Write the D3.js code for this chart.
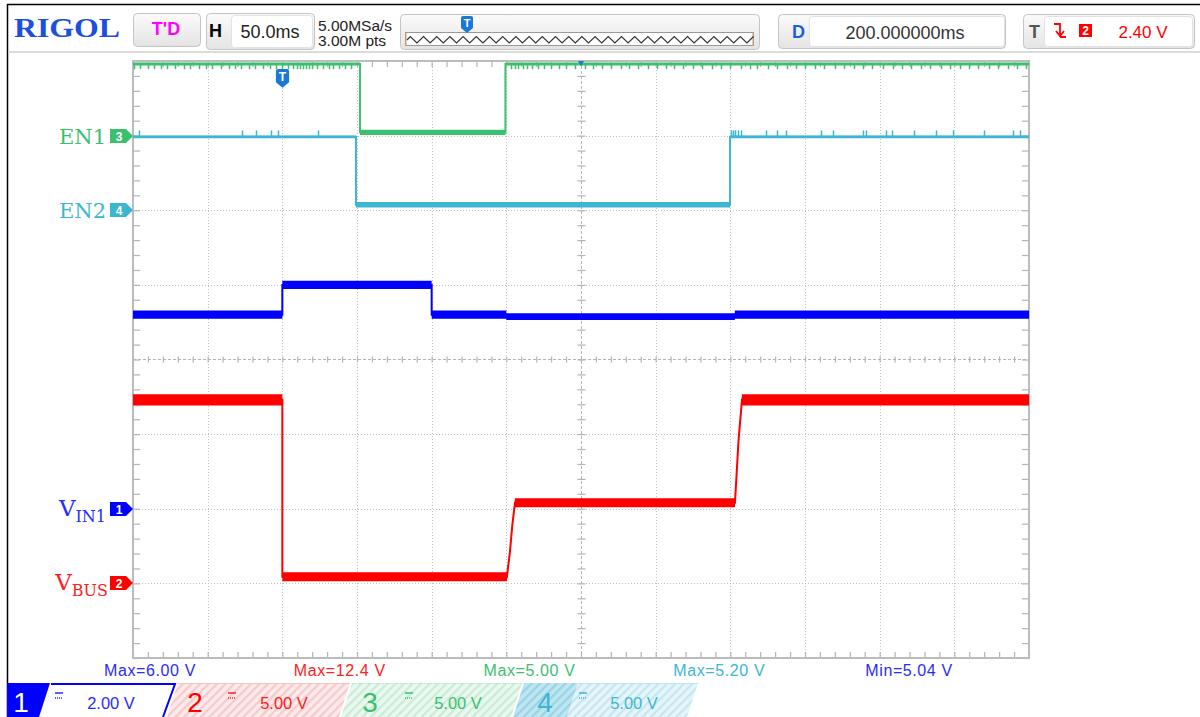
<!DOCTYPE html>
<html>
<head>
<meta charset="utf-8">
<script src="https://cdn.jsdelivr.net/npm/d3@7"></script>
<style>
  body { margin: 0; background: #fff; }
  svg { display: block; }
</style>
</head>
<body>
<script>
// ---- data ----
// time axis in ms relative to the trigger, 50 ms/div, 12 div
const timeDomain = [-100, 500];
const vDivs = [-4, -3, -2, -1, 0, 1, 2, 3, 4];

// channels: 1 = VIN1, 2 = VBUS, 3 = EN1, 4 = EN2
const chNumbers = ["1", "2", "3", "4"];
const chVoltsPerDiv = [2, 5, 5, 5];
const chOffsetDiv = [-2, -3, 3, 2];
const chScaleLabels = ["2.00 V", "5.00 V", "5.00 V", "5.00 V"];

// trace vertices (time ms, level V, half noise band V)
const ch1Time = [-100, 0, 0, 100, 100, 150, 150, 303, 303, 500];
const ch1Volt = [5.2, 5.2, 6.0, 6.0, 5.2, 5.2, 5.15, 5.15, 5.2, 5.2];
const ch1Noise = [0.11, 0.11, 0.11, 0.11, 0.11, 0.11, 0.09, 0.09, 0.11, 0.11];

const ch2Time = [-100, 0, 0, 150.4, 152.5, 154, 155.8, 303.1, 305.5, 307.8, 500];
const ch2Volt = [12.3, 12.3, 0.44, 0.44, 2.2, 3.9, 5.4, 5.4, 9.6, 12.3, 12.3];
const ch2Noise = [0.38, 0.38, 0.3, 0.3, 0.1, 0.1, 0.3, 0.3, 0.1, 0.38, 0.38];

const ch3Time = [-100, 52, 52, 149.4, 149.4, 500];
const ch3Volt = [4.8, 4.8, 0.22, 0.22, 4.8, 4.8];
const ch3Noise = [0.1, 0.1, 0.18, 0.18, 0.1, 0.1];

const ch4Time = [-100, 49.3, 49.3, 299.8, 299.8, 500];
const ch4Volt = [4.92, 4.92, 0.37, 0.37, 4.92, 4.92];
const ch4Noise = [0.09, 0.09, 0.19, 0.19, 0.09, 0.09];

// glitch spikes on the logic lines
const ch3SpikeTime = [-99, -95, -90, -86, -81, -77, -72, -66, -62, -56, -51, -47, -41, -36, -32, -28,
  -22, -18, -13, -8, -4, 0, 4, 7, 10, 12, 14, 16, 18, 20, 23, 27, 31, 34, 38, 42, 46,
  153, 156, 158, 161, 164, 167, 171, 175, 180, 185, 190, 196, 203, 208, 214, 220, 227, 232, 238,
  245, 251, 257, 262, 268, 275, 281, 288, 294, 300, 307, 313, 318, 325, 331, 338, 344, 350, 357,
  363, 370, 376, 383, 389, 395, 402, 409, 415, 421, 428, 434, 441, 447, 454, 460, 466, 473, 479,
  486, 492, 498];
const ch3SpikeLow = 4.45;
const ch4SpikeTime = [-96, -27, -17.6, -7.6, -2.9, 23.9, 300.5, 302, 303, 305, 307, 324, 331, 337,
  361, 369, 389, 391, 404, 408, 423, 438, 449, 470, 489, 494];
const ch4SpikeHigh = 5.35;

// measurements
const measureText = ["Max=6.00 V", "Max=12.4 V", "Max=5.00 V", "Max=5.20 V", "Min=5.04 V"];
const measureChannel = [0, 1, 2, 3, 0];

// ---- styles ----
const colors = ["#0000ff", "#ff0000", "#3dbf70", "#3db6d2"];
const textColors = ["#2a2aff", "#ff2020", "#3dbf70", "#3db6d2"];

const W = 1200, H = 717;
const plot = { left: 133, right: 1029, top: 61, bottom: 658 };

const svg = d3.select("body").append("svg")
  .attr("width", W).attr("height", H)
  .attr("font-family", "'Liberation Sans', Arial, sans-serif");

const defs = svg.append("defs");
const grad = defs.append("linearGradient").attr("id", "btn").attr("x1", 0).attr("x2", 0).attr("y1", 0).attr("y2", 1);
grad.append("stop").attr("offset", "0%").attr("stop-color", "#fbfbfb");
grad.append("stop").attr("offset", "100%").attr("stop-color", "#e4e4e4");

function hatch(id, bg, fg) {
  const p = defs.append("pattern").attr("id", id).attr("patternUnits", "userSpaceOnUse")
    .attr("width", 6).attr("height", 6).attr("patternTransform", "rotate(45)");
  p.append("rect").attr("width", 6).attr("height", 6).attr("fill", bg);
  p.append("rect").attr("width", 2.2).attr("height", 6).attr("fill", fg);
}
hatch("h2", "#fdeaea", "#f7c9c9");
hatch("h3", "#eaf8ef", "#c9ecd6");
hatch("h4", "#e6f5fa", "#c4e6f1");
hatch("h4d", "#bfe5f1", "#98d3e6");

defs.append("clipPath").attr("id", "clip").append("rect")
  .attr("x", plot.left).attr("y", plot.top)
  .attr("width", plot.right - plot.left).attr("height", plot.bottom - plot.top);

// ---- scales ----
const x = d3.scaleLinear().domain(timeDomain).range([plot.left, plot.right]);
const yDiv = d3.scaleLinear().domain([-4, 4]).range([plot.bottom, plot.top]);
const yCh = chVoltsPerDiv.map((s, i) =>
  d3.scaleLinear().domain([(-4 - chOffsetDiv[i]) * s, (4 - chOffsetDiv[i]) * s]).range([plot.bottom, plot.top]));

// ---- frame ----
svg.append("line").attr("x1", 7).attr("x2", W).attr("y1", 4.5).attr("y2", 4.5).attr("stroke", "#000").attr("stroke-width", 1.5);
svg.append("line").attr("x1", 7.5).attr("x2", 7.5).attr("y1", 4).attr("y2", H).attr("stroke", "#000").attr("stroke-width", 1.5);
svg.append("line").attr("x1", 8).attr("x2", W).attr("y1", 52).attr("y2", 52).attr("stroke", "#cfcfcf").attr("stroke-width", 1.5);

// ---- header ----
const hdr = svg.append("g");
hdr.append("text").attr("x", 14).attr("y", 37).attr("font-family", "'Liberation Serif', 'Times New Roman', serif")
  .attr("font-weight", "bold").attr("font-size", 27).attr("fill", "#1c4fde")
  .attr("textLength", 106).attr("lengthAdjust", "spacingAndGlyphs").text("RIGOL");

function box(x0, y0, w, h) {
  hdr.append("rect").attr("x", x0 + 0.5).attr("y", y0 + 0.5).attr("width", w).attr("height", h)
    .attr("rx", 4).attr("fill", "url(#btn)").attr("stroke", "#c4c4c4");
}
function inner(x0, y0, w, h) {
  hdr.append("rect").attr("x", x0 + 0.5).attr("y", y0 + 0.5).attr("width", w).attr("height", h)
    .attr("rx", 3).attr("fill", "#fff").attr("stroke", "#e2e2e2");
}
box(133, 13, 67, 33);
hdr.append("text").attr("x", 166).attr("y", 35).attr("text-anchor", "middle").attr("font-weight", "bold")
  .attr("font-size", 18).attr("fill", "#ff00ff").text("T'D");

box(206, 13, 108, 36);
inner(231, 15, 81, 32);
hdr.append("text").attr("x", 209).attr("y", 37).attr("font-weight", "bold").attr("font-size", 18).attr("fill", "#000").text("H");
hdr.append("text").attr("x", 270).attr("y", 38).attr("text-anchor", "middle").attr("font-size", 18).attr("fill", "#222").text("50.0ms");

hdr.append("text").attr("x", 318).attr("y", 31).attr("font-size", 15.5).attr("fill", "#222").text("5.00MSa/s");
hdr.append("text").attr("x", 318).attr("y", 46).attr("font-size", 15.5).attr("fill", "#222").text("3.00M pts");

box(400, 14, 359, 35);
hdr.append("rect").attr("x", 405.5).attr("y", 32.5).attr("width", 348).attr("height", 13).attr("fill", "#fff").attr("stroke", "#9a9a9a");
hdr.append("line").attr("x1", 406).attr("x2", 406).attr("y1", 33).attr("y2", 46).attr("stroke", "#d59a6a");
hdr.append("line").attr("x1", 753).attr("x2", 753).attr("y1", 33).attr("y2", 46).attr("stroke", "#d59a6a");
{
  // decorative overview waveform icon
  let d = "M407,40";
  for (let px = 407; px < 752; px += 6.6) d += `L${(px + 3.3).toFixed(1)},${(Math.floor((px - 407) / 6.6) % 2 ? 43 : 36.5)}`;
  hdr.append("path").attr("d", d).attr("fill", "none").attr("stroke", "#333").attr("stroke-width", 1.2);
}
function tMarker(g, cx, top, s) {
  const w = 6 * s, h = 12 * s;
  g.append("path").attr("d", `M${cx - w},${top + 2} Q${cx - w},${top} ${cx - w + 2},${top} H${cx + w - 2} Q${cx + w},${top} ${cx + w},${top + 2} V${top + h} L${cx},${top + h + 5 * s} L${cx - w},${top + h} Z`)
    .attr("fill", "#1a78d6");
  g.append("text").attr("x", cx).attr("y", top + 11 * s).attr("text-anchor", "middle").attr("font-weight", "bold")
    .attr("font-size", 11 * s).attr("fill", "#fff").text("T");
}
tMarker(hdr, 467, 16, 1);

box(778, 14, 227, 34);
inner(809, 16, 195, 30);
hdr.append("text").attr("x", 792).attr("y", 38).attr("font-weight", "bold").attr("font-size", 18).attr("fill", "#1a5ee0").text("D");
hdr.append("text").attr("x", 905).attr("y", 39).attr("text-anchor", "middle").attr("font-size", 18).attr("fill", "#333").text("200.000000ms");

box(1023, 14, 171, 34);
inner(1044, 16, 148, 30);
hdr.append("text").attr("x", 1029).attr("y", 38).attr("font-weight", "bold").attr("font-size", 18).attr("fill", "#555").text("T");
hdr.append("path").attr("d", "M1054,24 H1060 V37 M1056,31 L1060,36 L1064,31 M1060,37 H1066")
  .attr("fill", "none").attr("stroke", "#ff0000").attr("stroke-width", 1.8);
hdr.append("rect").attr("x", 1079).attr("y", 24).attr("width", 13).attr("height", 13).attr("fill", "#ff0000");
hdr.append("text").attr("x", 1085.5).attr("y", 35).attr("text-anchor", "middle").attr("font-weight", "bold")
  .attr("font-size", 12).attr("fill", "#fff").text("2");
hdr.append("text").attr("x", 1143).attr("y", 38).attr("text-anchor", "middle").attr("font-size", 17).attr("fill", "#ff0000").text("2.40 V");

// ---- grid ----
const grid = svg.append("g");
const majorT = d3.range(timeDomain[0] + 50, timeDomain[1], 50).filter(t => t !== 200);
grid.selectAll(".gv").data(majorT).join("line")
  .attr("x1", d => Math.round(x(d)) + 0.5).attr("x2", d => Math.round(x(d)) + 0.5)
  .attr("y1", plot.top).attr("y2", plot.bottom)
  .attr("stroke", "#c2c2c2").attr("stroke-dasharray", "1,2");
grid.selectAll(".gh").data(vDivs.filter(d => Math.abs(d) < 4 && d !== 0)).join("line")
  .attr("y1", d => Math.round(yDiv(d)) + 0.5).attr("y2", d => Math.round(yDiv(d)) + 0.5)
  .attr("x1", plot.left).attr("x2", plot.right)
  .attr("stroke", "#c2c2c2").attr("stroke-dasharray", "1,2");

// center cross lines
grid.append("line").attr("x1", plot.left).attr("x2", plot.right).attr("y1", 359.5).attr("y2", 359.5)
  .attr("stroke", "#b4b4b4").attr("stroke-dasharray", "3,2");
grid.append("line").attr("y1", plot.top).attr("y2", plot.bottom).attr("x1", 581.5).attr("x2", 581.5)
  .attr("stroke", "#b4b4b4").attr("stroke-dasharray", "3,2");

const minorT = d3.range(timeDomain[0], timeDomain[1] + 0.1, 10);
const minorV = d3.range(-4, 4.01, 0.2);
function tickAxis(axis, tx, ty) {
  const g = grid.append("g").attr("transform", `translate(${tx},${ty})`).call(axis);
  g.select(".domain").remove();
  g.selectAll("line").attr("stroke", "#b4b4b4").attr("stroke-width", 1.2);
  g.selectAll("text").remove();
}
tickAxis(d3.axisTop(x).tickValues(minorT).tickSize(6).tickFormat(""), 0, plot.bottom);
tickAxis(d3.axisBottom(x).tickValues(minorT).tickSize(6).tickFormat(""), 0, plot.top);
tickAxis(d3.axisRight(yDiv).tickValues(minorV).tickSize(7).tickFormat(""), plot.left, 0);
tickAxis(d3.axisLeft(yDiv).tickValues(minorV).tickSize(7).tickFormat(""), plot.right, 0);
tickAxis(d3.axisBottom(x).tickValues(minorT).tickSize(6).tickFormat(""), 0, 356.5);
tickAxis(d3.axisRight(yDiv).tickValues(minorV).tickSize(8).tickFormat(""), 577.5, 0);

grid.append("rect").attr("x", plot.left).attr("y", plot.top)
  .attr("width", plot.right - plot.left).attr("height", plot.bottom - plot.top)
  .attr("fill", "none").attr("stroke", "#bcbcbc").attr("stroke-width", 2);

// ---- traces ----
const traces = svg.append("g").attr("clip-path", "url(#clip)");
const series = [
  [ch1Time, ch1Volt, ch1Noise],
  [ch2Time, ch2Volt, ch2Noise],
  [ch3Time, ch3Volt, ch3Noise],
  [ch4Time, ch4Volt, ch4Noise]
];
series.forEach(([ts, vs, ns], i) => {
  const pts = ts.map((t, k) => ({ t, v: vs[k], n: ns[k] }));
  const y = yCh[i];
  const area = d3.area().x(d => x(d.t)).y0(d => y(d.v - d.n)).y1(d => y(d.v + d.n));
  const line = d3.line().x(d => x(d.t)).y(d => y(d.v));
  traces.append("path").attr("d", area(pts)).attr("fill", colors[i]);
  traces.append("path").attr("d", line(pts)).attr("fill", "none").attr("stroke", colors[i]).attr("stroke-width", 2);
});

traces.selectAll(".sp3").data(ch3SpikeTime).join("line")
  .attr("x1", d => Math.round(x(d)) + 0.5).attr("x2", d => Math.round(x(d)) + 0.5)
  .attr("y1", yCh[2](ch3Volt[0])).attr("y2", yCh[2](ch3SpikeLow))
  .attr("stroke", colors[2]).attr("stroke-width", 1.5);
traces.selectAll(".sp4").data(ch4SpikeTime).join("line")
  .attr("x1", d => Math.round(x(d)) + 0.5).attr("x2", d => Math.round(x(d)) + 0.5)
  .attr("y1", yCh[3](ch4Volt[0])).attr("y2", yCh[3](ch4SpikeHigh))
  .attr("stroke", colors[3]).attr("stroke-width", 1.5);

// trigger position marker and center marker
tMarker(svg, Math.round(x(0)) + 0.5, 69, 1.1);
svg.append("path").attr("d", `M${x(200) - 3},${plot.top} H${x(200) + 3} L${x(200)},${plot.top + 5} Z`).attr("fill", "#1a78d6");

// ---- channel labels ----
const labels = svg.append("g").attr("font-family", "'DejaVu Serif', 'Liberation Serif', serif");
function chMarker(i) {
  const cy = Math.round(yCh[i](0));
  labels.append("path").attr("d", `M110,${cy - 7} H126 L133,${cy} L126,${cy + 7} H110 Z`).attr("fill", colors[i]);
  labels.append("text").attr("x", 119).attr("y", cy + 4.5).attr("text-anchor", "middle")
    .attr("font-family", "'Liberation Sans', Arial, sans-serif").attr("font-weight", "bold")
    .attr("font-size", 12).attr("fill", "#fff").text(chNumbers[i]);
  return cy;
}
{
  let cy = chMarker(2);
  labels.append("text").attr("x", 106).attr("y", cy + 8).attr("text-anchor", "end").attr("font-size", 21)
    .attr("fill", textColors[2]).text("EN1");
  cy = chMarker(3);
  labels.append("text").attr("x", 106).attr("y", cy + 8).attr("text-anchor", "end").attr("font-size", 21)
    .attr("fill", textColors[3]).text("EN2");
  cy = chMarker(0);
  let t = labels.append("text").attr("x", 106).attr("y", cy + 7).attr("text-anchor", "end").attr("fill", textColors[0]);
  t.append("tspan").attr("font-size", 23).text("V");
  t.append("tspan").attr("font-size", 16).attr("dy", 6).text("IN1");
  cy = chMarker(1);
  t = labels.append("text").attr("x", 108).attr("y", cy + 7).attr("text-anchor", "end").attr("fill", textColors[1]);
  t.append("tspan").attr("font-size", 23).text("V");
  t.append("tspan").attr("font-size", 16).attr("dy", 6).text("BUS");
}

// ---- measurements ----
const measX = d3.scalePoint().domain(d3.range(measureText.length)).range([150, 909]);
svg.append("g").selectAll("text").data(measureText).join("text")
  .attr("x", (d, i) => measX(i)).attr("y", 676).attr("text-anchor", "middle")
  .attr("font-size", 16).attr("letter-spacing", 0.6)
  .attr("fill", (d, i) => textColors[measureChannel[i]]).text(d => d);

// ---- channel bar ----
const bar = svg.append("g");
const bTop = 683, bBot = 717, sl = 11;
function para(x0, x1, fill) {
  return bar.append("path").attr("d", `M${x0},${bTop} H${x1} L${x1 - sl},${bBot} H${x0 - sl} Z`).attr("fill", fill);
}
function coupling(cx, col) {
  bar.append("line").attr("x1", cx - 4).attr("x2", cx + 4).attr("y1", 693).attr("y2", 693).attr("stroke", col).attr("stroke-width", 1.5);
  bar.append("line").attr("x1", cx - 4).attr("x2", cx + 4).attr("y1", 698).attr("y2", 698).attr("stroke", col)
    .attr("stroke-width", 1.5).attr("stroke-dasharray", "1,1");
}
bar.append("path").attr("d", `M7,${bTop} H50 L39,${bBot} H7 Z`).attr("fill", colors[0]);
bar.append("path").attr("d", `M51,${bTop + 1} H175 L163,${bBot}`).attr("fill", "none").attr("stroke", colors[0]).attr("stroke-width", 2);

para(178, 350, "url(#h2)");
bar.append("line").attr("x1", 178).attr("x2", 350).attr("y1", bTop + 0.5).attr("y2", bTop + 0.5).attr("stroke", "#f6c4c4");
para(352, 522, "url(#h3)");
bar.append("line").attr("x1", 352).attr("x2", 522).attr("y1", bTop + 0.5).attr("y2", bTop + 0.5).attr("stroke", "#bfe9cf").attr("stroke-dasharray", "2,1");
para(524, 578, "url(#h4d)");
para(578, 698, "url(#h4)");
bar.append("line").attr("x1", 578).attr("x2", 698).attr("y1", bTop + 0.5).attr("y2", bTop + 0.5).attr("stroke", "#bfe3ee");

const numX = [21, 195, 370, 545];
const couplingX = [59, 232, 409, 583];
const valX = [111, 284, 458, 634];
chNumbers.forEach((n, i) => {
  bar.append("text").attr("x", numX[i]).attr("y", 712).attr("text-anchor", "middle")
    .attr("font-size", 28).attr("fill", i === 0 ? "#fff" : colors[i]).text(n);
  coupling(couplingX[i], textColors[i]);
  bar.append("text").attr("x", valX[i]).attr("y", 709).attr("text-anchor", "middle")
    .attr("font-size", 16.5).attr("fill", textColors[i]).text(chScaleLabels[i]);
});
</script>
</body>
</html>
